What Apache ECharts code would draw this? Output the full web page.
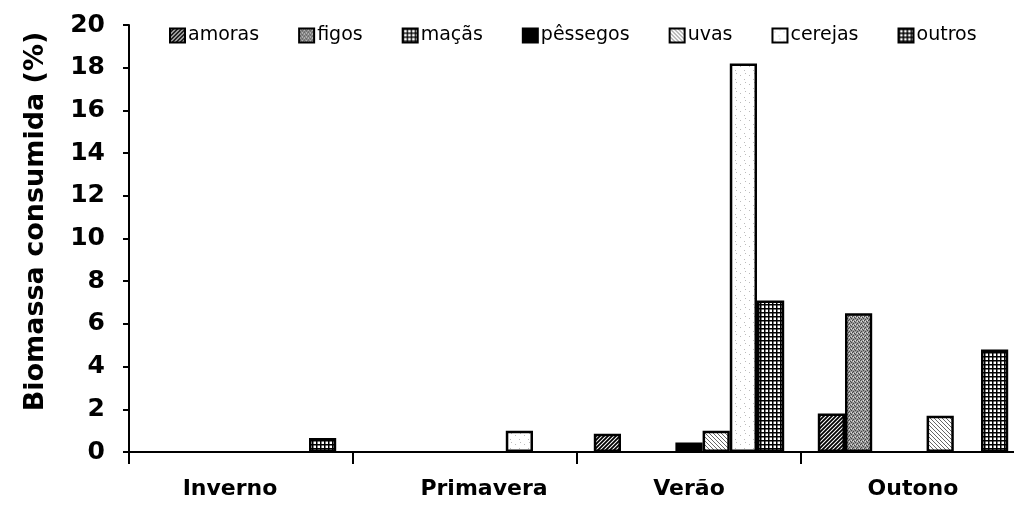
<!DOCTYPE html>
<html><head><meta charset="utf-8">
<script src="https://cdn.jsdelivr.net/npm/echarts@6/dist/echarts.min.js"></script>
<style>html,body{margin:0;padding:0;background:#fff}#c{width:1014px;height:506px}</style>
</head><body><div id="c"></div>
<script>
const categories = ['Inverno', 'Primavera', 'Verão', 'Outono'];
const seriesNames = ['amoras', 'figos', 'maçãs', 'pêssegos', 'uvas', 'cerejas', 'outros'];
const amoras   = [0, 0, 0.85, 1.8];
const figos    = [0, 0, 0, 6.5];
const macas    = [0, 0, 0, 0];
const pessegos = [0, 0, 0.45, 0];
const uvas     = [0, 0, 1.0, 1.7];
const cerejas  = [0, 1.0, 18.2, 0];
const outros   = [0.65, 0, 7.1, 4.8];
const yTicks = [0, 2, 4, 6, 8, 10, 12, 14, 16, 18, 20];
const values = [amoras, figos, macas, pessegos, uvas, cerejas, outros];

function tile(w, h, draw) {
  const c = document.createElement('canvas'); c.width = w; c.height = h;
  const g = c.getContext('2d'); g.fillStyle = '#fff'; g.fillRect(0, 0, w, h); draw(g); return c;
}
const patterns = [
  tile(4, 4, g => { g.strokeStyle = '#000'; g.lineWidth = 1.8; g.beginPath();
    g.moveTo(-1, 5); g.lineTo(5, -1); g.moveTo(-1, 1); g.lineTo(1, -1); g.moveTo(3, 5); g.lineTo(5, 3); g.stroke(); }),
  tile(4, 4, g => { g.fillStyle = '#999'; g.fillRect(0, 0, 4, 4); g.fillStyle = '#444';
    g.fillRect(0, 0, 1, 1); g.fillRect(2, 1, 1, 1); g.fillRect(1, 3, 1, 1); g.fillRect(3, 2, 1, 1);
    g.fillStyle = '#ddd'; g.fillRect(1, 1, 1, 1); g.fillRect(3, 0, 1, 1); }),
  tile(4, 4, g => { g.fillStyle = '#000'; g.fillRect(0, 0, 4, 1.3); g.fillRect(0, 0, 1.3, 4); }),
  tile(2, 2, g => { g.fillStyle = '#000'; g.fillRect(0, 0, 2, 2); }),
  tile(4, 4, g => { g.strokeStyle = '#666'; g.lineWidth = 1; g.beginPath();
    g.moveTo(-1, -1); g.lineTo(5, 5); g.moveTo(3, -1); g.lineTo(5, 1); g.moveTo(-1, 3); g.lineTo(1, 5); g.stroke(); }),
  tile(9, 9, g => { g.fillStyle = '#bbb'; g.fillRect(2, 3, 1, 1); g.fillRect(6, 7, 1, 1); g.fillRect(7, 1, 1, 1); }),
  tile(4, 4, g => { g.fillStyle = '#000'; g.fillRect(0, 0, 4, 1.5); g.fillRect(0, 0, 1.5, 4); })
];

const series = seriesNames.map((n, i) => ({
  name: n, type: 'bar', data: values[i].map(v => (v === 0 ? '-' : v)),
  barGap: '0%', barCategoryGap: '15%',
  itemStyle: { color: { image: patterns[i], repeat: 'repeat' }, borderColor: '#000', borderWidth: 2.5 }
}));

const chart = echarts.init(document.getElementById('c'), null, { renderer: 'canvas' });
chart.setOption({
  animation: false,
  backgroundColor: '#fff',
  textStyle: { fontFamily: 'DejaVu Sans' },
  legend: {
    data: seriesNames.map(n => ({ name: n, icon: 'rect' })), left: 164, top: 21, itemWidth: 15, itemHeight: 14, itemGap: 39,
    textStyle: { fontSize: 19, color: '#000', fontFamily: 'DejaVu Sans', padding: [0, 0, 0, -2] }
  },
  grid: { left: 129, right: -11, top: 25, bottom: 54, containLabel: false, outerBoundsMode: 'none' },
  xAxis: {
    type: 'category', data: categories,
    axisLine: { lineStyle: { color: '#000', width: 2 } },
    axisTick: { show: true, interval: 0, length: 12, lineStyle: { color: '#000', width: 2 } },
    axisLabel: {
      interval: 0, hideOverlap: false,
      fontSize: 22, fontWeight: 'bold', color: '#000', margin: 26, fontFamily: 'DejaVu Sans',
      formatter: (v, i) => ['{a|' + v + '}', '{b|' + v + '}', '{c|' + v + '}', '{c|' + v + '}'][i],
      rich: {
        a: { fontSize: 22, fontWeight: 'bold', padding: [0, 22, 0, 0] },
        b: { fontSize: 22, fontWeight: 'bold', padding: [0, 0, 0, 38] },
        c: { fontSize: 22, fontWeight: 'bold' }
      }
    }
  },
  yAxis: {
    type: 'value', min: yTicks[0], max: yTicks[yTicks.length - 1], interval: 2,
    name: 'Biomassa consumida (%)', nameLocation: 'middle', nameGap: 80,
    nameTextStyle: { fontSize: 27, fontWeight: 'bold', color: '#000', fontFamily: 'DejaVu Sans', padding: [0, 0, 0, 34] },
    axisLine: { show: true, lineStyle: { color: '#000', width: 2 } },
    axisTick: { show: true, length: 6, lineStyle: { color: '#000', width: 2 } },
    splitLine: { show: false },
    axisLabel: { fontSize: 25, fontWeight: 'bold', color: '#000', margin: 24, fontFamily: 'DejaVu Sans' }
  },
  series: series
});
</script></body></html>
